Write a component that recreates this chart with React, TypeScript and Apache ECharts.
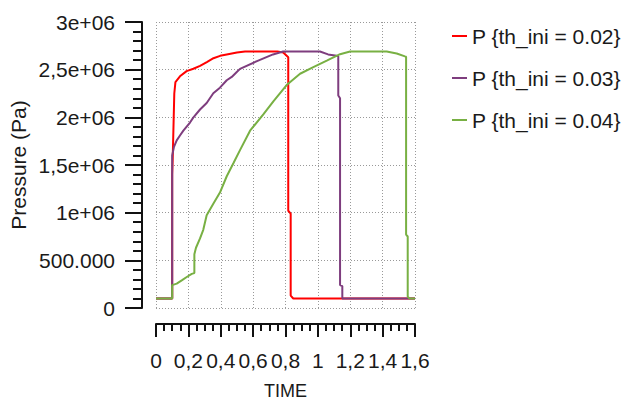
import React, { useEffect, useRef } from "react";
import * as echarts from "echarts";

const seriesNames = ["P {th_ini = 0.02}", "P {th_ini = 0.03}", "P {th_ini = 0.04}"];
const seriesColors = ["#ff0000", "#7e3d7e", "#78b043"];

const xTickLabels = ["0", "0,2", "0,4", "0,6", "0,8", "1", "1,2", "1,4", "1,6"];
const yTickLabels = ["0", "500.000", "1e+06", "1,5e+06", "2e+06", "2,5e+06", "3e+06"];

// th_ini = 0.02
const tRed = [0, 0.1, 0.1, 0.103, 0.113, 0.12, 0.148, 0.189, 0.231, 0.272, 0.314, 0.355, 0.396, 0.437, 0.5, 0.55, 0.75, 0.786, 0.817, 0.817, 0.832, 0.832, 0.848, 1.6];
const pRed = [1e5, 1e5, 1.4e6, 1.55e6, 2.25e6, 2.37e6, 2.43e6, 2.485e6, 2.51e6, 2.54e6, 2.58e6, 2.62e6, 2.645e6, 2.66e6, 2.68e6, 2.69e6, 2.69e6, 2.68e6, 2.63e6, 1.02e6, 0.99e6, 1.3e5, 1e5, 1e5];

// th_ini = 0.03
const tPur = [0, 0.1, 0.1, 0.111, 0.128, 0.148, 0.169, 0.21, 0.23, 0.272, 0.313, 0.354, 0.395, 0.437, 0.468, 0.499, 0.519, 0.624, 0.723, 0.785, 1.013, 1.063, 1.116, 1.126, 1.126, 1.137, 1.137, 1.151, 1.151, 1.6];
const pPur = [1e5, 1e5, 1.6e6, 1.69e6, 1.758e6, 1.809e6, 1.86e6, 1.945e6, 1.997e6, 2.082e6, 2.15e6, 2.252e6, 2.311e6, 2.389e6, 2.424e6, 2.475e6, 2.508e6, 2.59e6, 2.66e6, 2.69e6, 2.69e6, 2.66e6, 2.645e6, 2.64e6, 2.23e6, 2.2e6, 2.4e5, 2.3e5, 1e5, 1e5];

// th_ini = 0.04
const tGrn = [0, 0.1, 0.1, 0.128, 0.159, 0.19, 0.221, 0.237, 0.237, 0.247, 0.272, 0.292, 0.313, 0.354, 0.395, 0.437, 0.478, 0.519, 0.581, 0.663, 0.725, 0.807, 0.89, 0.972, 1.055, 1.137, 1.199, 1.425, 1.487, 1.538, 1.545, 1.545, 1.555, 1.555, 1.565, 1.6];
const pGrn = [1e5, 1e5, 2.4e5, 2.56e5, 2.9e5, 3.25e5, 3.58e5, 3.66e5, 5.63e5, 6.32e5, 7.3e5, 8.2e5, 9.73e5, 1.093e6, 1.211e6, 1.382e6, 1.518e6, 1.656e6, 1.86e6, 2.03e6, 2.168e6, 2.338e6, 2.457e6, 2.526e6, 2.594e6, 2.662e6, 2.69e6, 2.69e6, 2.669e6, 2.639e6, 2.635e6, 7.7e5, 7.5e5, 1.2e5, 1e5, 1e5];

const seriesT = [tRed, tPur, tGrn];
const seriesP = [pRed, pPur, pGrn];

const FONT = "'Liberation Sans', Arial, sans-serif";
const INK = "#1a1a1a";

export default function App() {
  const ref = useRef<HTMLDivElement>(null);

  useEffect(() => {
    if (!ref.current) return;
    const chart = echarts.init(ref.current, undefined, { renderer: "svg" });
    const tickStyle = { color: "#111", width: 2 };
    const gridStyle = { color: "#999999", width: 1, type: [1, 2] as any };
    chart.setOption({
      animation: false,
      backgroundColor: "#ffffff",
      textStyle: { fontFamily: FONT },
      grid: { left: 156, right: 214, top: 22, bottom: 90, containLabel: false },
      legend: {
        orient: "vertical",
        left: 452,
        top: 25,
        icon: "rect",
        itemWidth: 15,
        itemHeight: 2,
        itemGap: 20,
        itemTextGap: 6,
        padding: 0,
        textStyle: { fontSize: 21, color: INK, lineHeight: 22, fontFamily: FONT },
        data: seriesNames,
      },
      xAxis: {
        type: "value",
        min: 0,
        max: 1.6,
        interval: 0.2,
        offset: 16,
        name: "TIME",
        nameLocation: "middle",
        nameGap: 58,
        nameTextStyle: { fontSize: 18, color: INK, fontFamily: FONT },
        axisLine: { show: true, onZero: false, lineStyle: tickStyle },
        axisTick: { show: true, length: 13, lineStyle: tickStyle },
        minorTick: { show: true, splitNumber: 4, length: 7, lineStyle: tickStyle },
        axisLabel: {
          margin: 26,
          fontSize: 21,
          color: INK,
          fontFamily: FONT,
          formatter: (v: number) => xTickLabels[Math.round(v / 0.2)] ?? "",
        },
        splitLine: { show: true, lineStyle: gridStyle },
      },
      yAxis: {
        type: "value",
        min: 0,
        max: 3e6,
        interval: 5e5,
        offset: 14,
        name: "Pressure (Pa)",
        nameLocation: "middle",
        nameGap: 113,
        nameTextStyle: { fontSize: 21, color: INK, fontFamily: FONT },
        axisLine: { show: true, onZero: false, lineStyle: tickStyle },
        axisTick: { show: true, length: 17, lineStyle: tickStyle },
        minorTick: { show: true, splitNumber: 5, length: 9, lineStyle: tickStyle },
        axisLabel: {
          margin: 27,
          fontSize: 21,
          color: INK,
          fontFamily: FONT,
          formatter: (v: number) => yTickLabels[Math.round(v / 5e5)] ?? "",
        },
        splitLine: { show: true, lineStyle: gridStyle },
      },
      series: seriesNames.map((name, i) => ({
        name,
        type: "line",
        showSymbol: false,
        symbol: "none",
        color: seriesColors[i],
        lineStyle: { color: seriesColors[i], width: 2 },
        data: seriesT[i].map((t, j) => [t, seriesP[i][j]]),
      })),
    });
    return () => chart.dispose();
  }, []);

  return (
    <div
      ref={ref}
      style={{ position: "fixed", left: 0, top: 0, width: 629, height: 405, background: "#fff" }}
    />
  );
}
